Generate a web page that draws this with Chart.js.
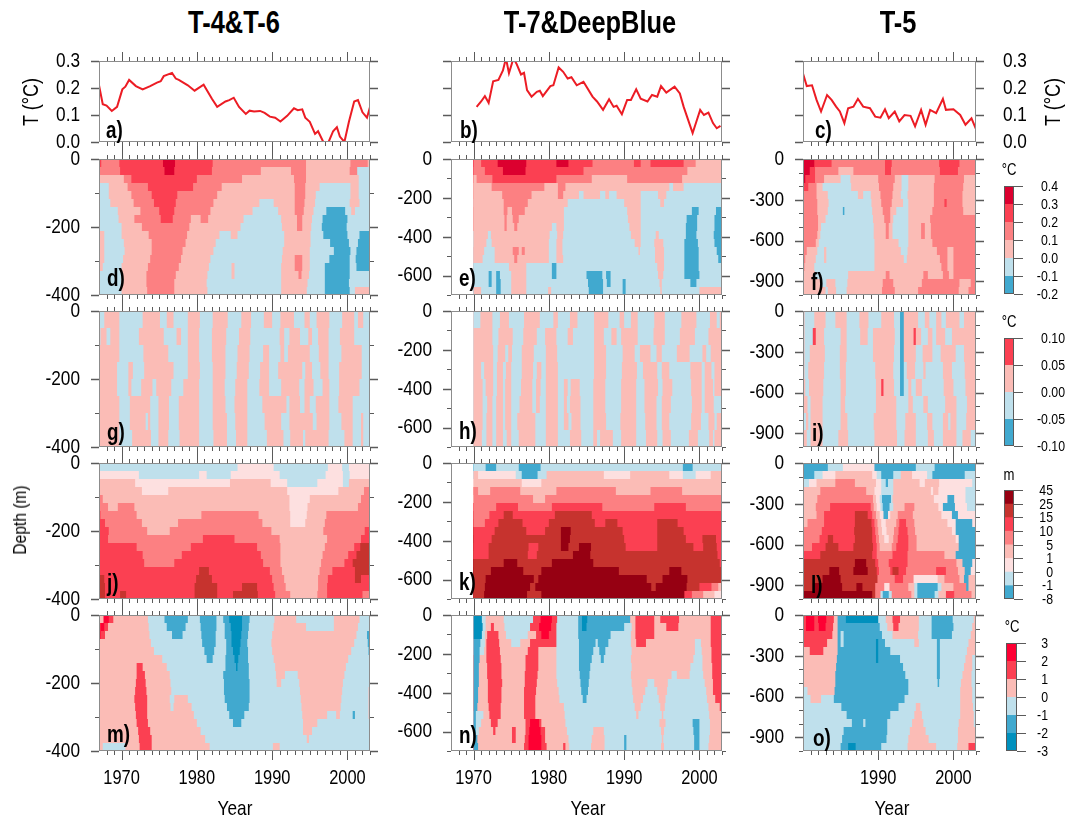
<!DOCTYPE html>
<html>
<head>
<meta charset="utf-8">
<title>Ocean temperature and depth sections</title>
<script src="https://cdn.jsdelivr.net/npm/chart.js@4/dist/chart.umd.min.js"></script>
<style>
body { margin:0; background:#fff; width:1071px; height:824px; position:relative; overflow:hidden; }
canvas { position:absolute; }
.txt { position:absolute; font-family:"Liberation Sans",sans-serif; color:#000; white-space:nowrap; transform:translate(-50%,-50%) scaleX(.82); }
.rot { transform:translate(-50%,-50%) rotate(-90deg) scaleX(.82); }
.tag { font-weight:bold; font-size:23px; transform-origin:left center; transform:translate(0,-50%) scaleX(.82); }
.head { font-weight:bold; font-size:31px; }
</style>
</head>
<body>
<script>
const FONT = 'Liberation Sans'
const NARROW = .82

// Top row: mean temperature (year, deg C)
const yearsA = [1967,1967.5,1968,1968.7,1969.4,1970.1,1970.5,1971,1971.9,1972.8,1973.8,1974.7,1975.2,1975.6,1976.7,1977.2,1977.6,1978.8,1979.7,1980.9,1982,1982.7,1983.8,1984.3,1984.9,1985.6,1986.5,1987,1987.6,1988.4,1989,1989.7,1990.4,1991.1,1992,1992.9,1993.4,1994,1994.4,1995,1995.7,1996.1,1996.8,1997.5,1998.1,1998.6,1999,1999.6,2000.2,2000.9,2001.4,2002,2002.6,2003]
const tempA = [.21,.14,.135,.115,.13,.195,.205,.23,.207,.195,.207,.22,.225,.244,.256,.235,.23,.21,.19,.212,.16,.13,.15,.155,.164,.13,.104,.116,.113,.115,.108,.094,.09,.076,.097,.125,.118,.121,.09,.075,.03,.04,0,0,.04,.055,.02,0,.075,.15,.155,.11,.09,.13]
const yearsB = [1970.4,1971,1971.5,1972,1972.6,1973.3,1973.9,1974.3,1974.7,1975.3,1975.7,1976.3,1976.7,1977.1,1977.7,1978.4,1978.8,1979.2,1980.2,1980.6,1981.3,1981.9,1982.5,1983,1983.7,1984.6,1985.8,1986.4,1987.2,1988,1988.6,1989,1989.7,1990.4,1990.9,1991.6,1992.2,1993.1,1993.7,1994.4,1994.9,1995.6,1996.7,1997.4,1997.9,1998.5,1999.1,1999.6,2000.1,2000.6,2001.2,2001.8,2002.3,2002.8]
const tempB = [.13,.15,.17,.145,.225,.23,.265,.31,.255,.31,.29,.25,.256,.192,.168,.186,.19,.17,.207,.21,.276,.26,.235,.24,.21,.223,.168,.15,.119,.158,.13,.134,.103,.156,.156,.195,.16,.15,.174,.168,.207,.183,.205,.18,.131,.082,.033,.076,.119,.1,.109,.07,.051,.06]
const yearsC = [1980,1980.5,1981.2,1981.8,1982.4,1983.2,1983.8,1984.4,1984.9,1985.5,1986,1986.7,1987.3,1988,1988.9,1989.6,1990.3,1990.9,1991.4,1992.2,1992.8,1993.5,1994.3,1994.9,1995.7,1996.3,1996.9,1997.7,1998.6,1999,2000,2000.9,2001.6,2002.4,2003]
const tempC = [.254,.207,.21,.156,.113,.174,.156,.131,.113,.07,.125,.131,.16,.131,.125,.094,.09,.121,.088,.113,.076,.1,.097,.058,.119,.064,.119,.107,.16,.119,.121,.1,.064,.088,.048]

// Colour bar levels
const levelsDEF = ['-0.2','-0.1','0.0','0.1','0.2','0.3','0.4']
const levelsGHI = ['-0.10','-0.05','0.00','0.05','0.10']
const levelsJKL = ['-8','-1','0','1','5','10','15','25','45']
const levelsMNO = ['-3','-2','-1','0','1','2','3']

// Band colours, lowest level first
const LB='#bfe0ec', MB='#41a9cf', DB='#0090bd', PP='#fde0e0', PK='#fbbcb6', SA='#fc8082', RE='#fb4052', CR='#dc002f', BR='#fe0033', DR='#c6332e', MA='#960012'
const paletteDEF = [MB,LB,PK,SA,RE,CR]
const paletteGHI = [MB,LB,PK,RE]
const paletteJKL = [MB,LB,PP,PK,SA,RE,DR,MA]
const paletteMNO = [DB,MB,LB,PK,RE,BR]

// Sections. One row per depth level, shallowest first.
// A row reads band, end year (minus 1900), band, end year ... band
const rowsD = [
[4,67.3,3,69.7,4,75.5,5,77.1,4,82.1,3,94.5,2,100.4,3,102.7,2],
[3,69.8,4,75.7,5,77,4,82,3,88.5,2,92.5,3,94.5,2,100.3,3,101.3,1],
[2,70.3,3,71.3,4,80,3,86,2,92.9,3,94.5,2,101.5,1],
[1,68.3,2,70.8,3,73.5,4,79.5,3,83.3,2,93,3,94.4,2,96.3,1,100.4,2,101.5,1],
[1,68.3,2,71.3,3,74,4,77.4,3,82.7,2,93,3,94.4,2,95.8,1,100.4,2,101.5,1],
[1,68.5,2,71.6,3,74.3,4,77.2,3,82.2,2,88.3,1,90.2,2,93,3,94.3,2,95.7,1,100.3,2,101.6,1],
[1,69.5,2,72.5,3,75,4,77,3,81.8,2,87.4,1,90.8,2,93,3,94.2,2,95.5,1,97.2,0,99.7,1,100.5,2,101,1],
[1,69.6,2,71.7,3,75.2,4,76.8,3,79.2,2,80.5,3,81.5,2,86.2,1,91.2,2,93.3,3,94,2,95.3,1,96.7,0,100,1],
[1,70,2,72.7,3,79,2,85.8,1,91.3,2,93.3,3,94,2,95.2,1,96.6,0,99.9,1],
[2,67.7,1,70,2,73.6,3,78.7,2,83,1,84.5,2,85.4,1,91.6,2,95.1,1,96.8,0,100,1,101.6,0],
[2,67.7,1,70.3,2,74,3,78.5,2,82.5,1,91.6,2,95.1,1,97.7,0,100.2,1,101.4,0],
[2,67.7,1,70.4,2,74,3,78.1,2,82.2,1,91.4,2,95,1,98.2,0,100.4,1,101.2,0],
[2,67.7,1,70.2,2,73.8,3,77.9,2,81.8,1,91.3,2,93,3,94,2,95,1,97.6,0,100.3,1,101.1,0],
[2,67.5,1,70,2,73.5,3,77.6,2,81.6,1,84.6,2,85,1,91.2,2,93,3,94,2,95,1,97,0,100.3,1,101.2,0],
[1,70,2,73.3,3,77.2,2,81.4,1,84.6,2,85,1,91.2,2,93.5,3,93.9,2,94.9,1,97,0,100.3,1],
[1,70,2,73.3,3,77,2,81.3,1,91.2,2,94.7,1,97,0,100.2,1],
[1,70,2,73.4,3,77,2,81.4,1,91.2,2,94.6,1,97,0,100.3,1,101,2]
]
const rowsE = [
[3,71,4,73.2,5,77,4,81,5,82.6,4,85.8,3,91.3,4,92.2,3,93.5,4,97.9,3,99.5,2],
[3,71.5,4,73.9,5,76.9,4,84.6,3,98.4,2],
[2,70.4,3,72.5,4,81,3,85.7,2,90.4,3,97.7,2],
[2,72.4,3,79.4,2,81.2,3,82.2,2,96,1,96.5,2,97.9,1],
[2,73.8,3,77.7,2,81.2,3,81.9,2,84,1,84.6,2,86.8,1,87.5,2,88,1,89,2,92.2,1,94.5,2,95.6,1],
[2,74,3,77.2,2,82.5,1,90,2,92.2,1,94.8,2,95.3,1],
[2,74,3,74.5,2,75.1,3,76.8,2,82,1,90.4,2,92.2,1,99,0,99.9,1,102.2,0],
[2,74.1,3,74.4,2,75.2,3,76,2,82,1,90.5,2,92.2,1,98.3,0,99.7,1,102,0],
[2,74.1,3,74.4,2,75.4,3,75.8,2,80.4,1,81,2,82,1,90.7,2,92.2,1,98.2,0,99.7,1,102,0],
[2,71.9,1,72.3,2,80.1,1,81.1,2,81.9,1,90.9,2,92.2,1,94.2,2,94.6,1,98.2,0,99.6,1,101.9,0],
[2,71.7,1,72.4,2,80,1,81,2,81.8,1,91.4,2,92.2,1,94,2,95.2,1,98,0,99.8,1,102,0],
[2,71.4,1,72.8,2,75.2,3,76,2,76.4,3,76.8,2,80,1,81,2,81.8,1,91.9,2,92.1,1,94.1,2,95.3,1,98,0,99.9,1,102.3,0],
[2,71.2,1,72.8,2,75.4,3,75.8,2,80,1,81,2,81.9,1,94.1,2,95.3,1,98,0,99.9,1,102.5,0],
[1,74.7,2,77,1,80.4,0,81,1,94.4,2,95.3,1,98,0,99.9,1],
[1,72,0,72.4,1,73,0,73.5,1,75,2,77,1,80.4,0,81,1,85,0,87.1,1,87.6,0,88.2,1,94.5,2,95.2,1,98,0,100,1],
[1,72,0,72.4,1,73,0,73.6,1,75,2,77,1,85.2,0,87.2,1,87.7,0,88.2,1,89.8,0,90.2,1,94.7,2,95,1,98.8,0,99.6,1],
[2,71,1,73,0,73.6,1,75,2,77,1,79.9,2,80.3,1,85.3,0,87.2,1,89.8,0,90.2,1,94.8,2,95,1,100,2]
]
const rowsF = [
[5,81.5,4,83.8,3,90.9,4,91.8,3,98.1,4,100.8,3],
[5,80.9,4,81.6,3,84.7,2,86.7,3,90.9,4,91.7,3,98.2,4,100.6,3],
[5,80.3,4,81.6,3,82.8,2,85,1,86.3,2,90,3,92.2,2,93.1,1,94,2,97.5,3,101.4,2],
[4,80.7,3,81.8,2,82.6,1,86.4,2,90.1,3,92,2,93.1,1,94,2,97.4,3,101.3,2],
[3,81.8,2,83.3,1,87.3,2,88,1,89,2,90.3,3,91.9,2,93,1,93.9,2,97.4,3,101.2,2],
[3,81.9,2,83.4,1,89.1,2,90.4,3,91.8,2,93.3,1,94,2,97.4,3,98.8,4,99.1,3,101.2,2],
[3,81.9,2,83.3,1,85.3,0,85.5,1,89.2,2,90.6,3,91.6,2,92.4,1,94,2,97.2,3,101.3,2],
[3,82,2,83,1,89.3,2,90.8,3,91.6,2,92,1,94,2,96.9,3],
[3,82,2,82.4,1,89.4,2,91,3,91.4,2,91.9,1,94,2,95.7,3,96.2,2,97,3],
[3,81.9,2,82.3,1,89.4,2,91,3,91.4,2,91.9,1,94,2,95.7,3,96.2,2,97,3],
[3,81.7,2,82.1,1,89.5,2,92.7,1,94,2,97.2,3],
[3,80.5,2,81.9,1,82.8,2,83.1,1,89.5,2,93,1,93.9,2,97.8,3,99.2,2,100,3],
[3,80.3,2,81.7,1,82.8,2,83.1,1,89.5,2,93.4,1,93.8,2,98.2,3,99.2,2,100,3],
[3,80.2,2,81.5,1,89.5,2,98.4,3,99.2,2,100,3],
[2,81.6,1,86,2,91,3,91.5,2,96,3,96.6,2,98.6,3,99.4,2,100,3],
[2,82.3,1,83.1,2,84.3,1,85.9,2,90.6,3,92,2,95.8,3,100.8,2,102.3,3],
[2,83,1,83.3,2,84.4,1,85.8,2,90.5,3,92.2,2,95.3,3,100.7,2,102,3]
]
// G and H alternate between two bands, so a row is first band, then the end years
const rowsG = [
[1,67.7,69.7,72.8,75.1,76,76.9,78.8,80.4,82.1,84.1,85.9,87.2,88.9,90,91.1,92.9,94.3,95,95.9,97.6,99.3,100.9,101.4,102.1],
[1,67.2,68,68.5,69.7,72.3,75.6,77.3,77.9,78.8,80.3,82,83.9,85.6,87.1,91,91.6,92.3,93.7,94.8,95.3,96.1,97.5,99,100.9],
[2,69.7,72.9,76.2,78.8,80.3,82,83.8,85.4,87,88.8,89.6,91.1,91.6,92.1,95,96.2,97.5,99.2,101.9],
[2,69.4,70.9,71.5,73,76.9,78.8,80.4,82.1,83.8,85.3,86.9,88.4,89.6,90.8,94,94.4,95.3,96.4,97.5,98.9,101.9],
[2,69.4,70.9,71.3,72.6,74.1,74.6,76.6,78.2,80.3,82.1,83.7,85.1,86.7,88.3,89.6,91.2,93.6,94.3,95.5,96.7,97.6,98.9,101.6],
[2,69.7,71.1,73.8,74.9,76.3,77.6,80.3,82.1,83.8,85,86.7,88.7,91.9,92.3,93.7,94.3,95,95.8,97.6,98.8,100.7],
[2,69.7,71.1,73.2,73.5,73.8,74.9,76.3,77.6,80.3,82.1,84,85.1,86.7,89,91.2,92.3,95.4,95.9,97.6,99.2,100.7,101.8,102.1],
[2,69.7,71.4,73.9,74.9,76.2,77.7,80.3,82.2,84,85.2,86.7,89.3,91.5,92.4,94.1,94.4,97.5,99.6,100.7,101.8,102.1]
]
const rowsH = [
[1,70.9,72.5,73.5,74.7,76.7,78.8,80.6,81.2,82.8,83.8,86,87.9,89.4,90,90.9,91.8,94,95.4,97.6,99.6,101.4,102.3,102.7],
[2,72.5,73.3,75.2,76.6,78.4,79.5,81,82.5,83.2,86,87.3,88.3,89,89.6,91.8,93.9,95.4,97.4,99.4,101.2],
[2,72.6,73.2,74.2,74.6,75.1,76.4,78,79.6,81.1,86,87.6,89.8,91.4,92.1,93.5,94.3,95,97,98.7,100.4,100.9,101.5],
[2,71,71.4,72.6,73.1,73.9,74.3,75,76.4,77.9,78.4,79,79.6,81.2,86,87.6,89.7,91.7,92.5,94.4,95,96,98.8,100.3,100.7,101.6,102],
[2,71.2,71.6,72.6,73.1,73.9,74.2,75,76.3,77.8,78.3,78.9,79.6,81.2,82,82.5,82.9,84.1,85.9,87.5,89.6,91.6,92.7,94.5,95.1,96.4,98.9,100.3,100.7,101.8,102],
[2,71.2,71.8,72.5,73,73.9,74.2,75,76.1,77.8,78.3,78.8,79.6,81.2,82,82.4,82.8,84.2,85.9,87.5,89.6,91.6,92.7,94.3,95,96.2,99,100.3,100.7,101.9],
[2,71.2,71.7,72.5,73,73.9,74.2,75,75.8,78.2,79.6,81.2,82,82.6,83,84.2,85.9,87.6,89.5,91.6,92.8,94.3,95,96,98.9,100.2,101.2,102,102.3],
[2,71.1,71.7,72.5,73,73.9,74.4,75,76,78.2,79.6,81.2,82.8,84.3,85.9,86.4,86.8,88.5,89.6,91.6,92.9,94.4,95.1,96.2,98.6,99.8,101.3,101.8,102]
]
const rowsI = [
[2,80.2,1,81.5,2,83,1,84.3,2,85.8,1,87.5,2,88.7,1,90.4,2,92.1,1,92.9,0,93.4,2,95.3,1,96.2,2,96.8,1,97.7,2,98.4,1,99,2,100.8,1,101.4,2],
[2,80.2,1,81.3,3,81.7,2,82.8,1,85,2,85.8,1,87.6,2,88.6,1,89.3,2,92.2,1,92.9,0,93.4,2,94.7,3,95,2,95.7,1,96.6,2,97.2,1,97.7,2,98.9,1,99.8,2],
[2,80.2,1,80.9,2,82.9,1,84.9,2,85.8,1,89.3,2,92.1,1,92.9,0,93.4,2,95,1,95.9,2,97.2,1,98.3,2,100.3,1,101.4,2],
[2,80.2,1,80.7,2,82.8,1,84.9,2,85.7,1,89.6,2,92,1,92.9,0,93.4,1,93.8,2,94.9,1,96,2,96.3,1,98.6,2,99.8,1,101.5,2],
[2,80.3,1,80.8,2,82.7,1,85,2,85.7,1,89.7,2,90.4,3,90.7,2,92.1,1,92.9,0,93.4,1,94,2,94.4,1,95,2,95.8,1,98.7,2,100,1,101.6,2],
[2,80.6,1,81,2,82.6,1,85,2,85.6,1,89.7,2,92.4,1,94,2,94.6,1,96,2,96.6,1,98.9,2,100.4,1,101.8,2],
[1,80.4,2,80.7,1,81,2,82.6,1,85,2,85.9,1,89.4,2,92.4,1,93.6,2,95,1,96.5,2,97.2,1,98.6,2,99.3,1,99.6,2,100.4,1,101.7,2],
[2,80.5,1,81,2,82.6,1,84.7,2,86,1,89.5,2,92.5,1,93.5,2,95,1,96.6,2,97.4,1,98.6,2,100.4,1,101.2,2,102.3,1]
]
const rowsJ = [
[1,85.4,2,90.2,1,97.4,2,99.3,1,100.2,2],
[2,72.3,1,80.3,2,81.3,1,84.5,2,91,1,97.1,2,99.4,1,100.3,2],
[3,71.8,2,84.4,3,89.8,2,92,1,96,2,99.4,1,100.2,3],
[3,72.7,2,76.2,3,92,2,98.8,3,102.2,4],
[4,67.5,3,92.3,2,95,3,101.8,4],
[4,68.2,3,69.5,4,71.7,3,92.3,2,94.7,3,101.4,4],
[5,67.2,4,72,3,80.6,4,88.2,3,92.4,2,94.6,3,97.2,4],
[5,67.8,4,72.7,3,77.5,4,88.7,3,92.4,2,94.4,3,97,4],
[5,68.3,4,73.4,3,76.4,4,89.9,3,96.8,4,102.3,5],
[5,68.2,4,80.8,5,85,4,91,3,97.3,4,101.8,5],
[5,72,4,79.2,5,88,4,91.1,3,97,4,100.9,5,101.7,6],
[5,72.8,4,78,5,88.5,4,91.1,3,96.7,4,100.1,5,101.2,6],
[5,73,4,77,5,88.8,4,91.1,3,96.5,4,99.6,5,100.7,6],
[5,80.3,6,81.6,5,89.7,4,91.3,3,96.3,4,98,5,101,6],
[6,67.7,5,79.9,6,82,5,90,4,91.6,3,96.1,4,97.4,5,101,6,101.8,5],
[6,67.8,5,79.7,6,82.7,5,86,6,88,5,90.2,4,91.8,3,96.1,4,97.3,5],
[6,67.8,5,69.8,6,70.6,5,79.7,6,82.7,5,84.8,6,88.1,5,90.4,4,92.4,3,96,4,97.3,5,102,4]
]
const rowsK = [
[1,71.6,0,73,1,76,0,78.9,1,97.8,0,99.1,1],
[3,70.6,2,75.6,1,76.4,0,78.5,1,79.7,3,87.3,2,90.8,3,96,2,97.8,1,99.5,2,101.5,3],
[3,76.4,2,79,3],
[4,70.6,3,72.2,4,76.2,3,81,4,88.9,3,93.5,4,97.7,3],
[4,77.9,3,79.5,4],
[4,73,5,75.9,4,80.4,5,87.1,4,94,5,98.2,4],
[4,72.1,5,74,6,75.2,5,80.8,6,85.7,5],
[4,71.5,5,73.3,6,76.5,5,80,6,86.1,5,87.5,6,89.1,5,94.4,6,97.1,5],
[5,72.8,6,77,5,79.5,6,81.6,7,82.9,6,89.8,5,94.4,6,97.9,5],
[5,72.4,6,81.6,7,82.8,6,90,5,94.4,6,98.2,5,100.4,6,102.2,5],
[5,72,6,77.3,5,78.6,6,81.6,7,82.6,6,84,7,85.6,6,90.2,5,94.4,6,99.2,5,100.5,6,102.3,5],
[5,72,6,77.2,5,78.4,6,83.2,7,85.5,6,102.4,5],
[6,74,7,75.8,6,80.4,7,85.9,6,102.7,5],
[6,72.3,7,76.6,6,79,7,89.3,6,96,7,97.6,6],
[6,71.6,7,78,6,78.6,7,93,6,95.1,7,98.4,6],
[6,71.5,7,77.5,6,78.2,7,93.6,6,94.2,7,98.3,6,100,5,101.6,4,102.5,3],
[6,71.4,7,77.1,6,79,7,98,5,99,4,100.5,3,102,2]
]
const rowsL = [
[0,83.3,1,85.3,2,89.5,0,95,1,97.5,0],
[0,81.5,1,82.6,2,84.3,3,89.2,2,89.8,1,90.4,0,92,1,93,3,94.5,2,96.5,1,97.2,0,101.5,1],
[1,80.8,2,81.8,3,84.3,4,86.9,3,89.7,2,90.4,1,91,0,91.3,1,92,3,95.5,2,96.2,3,98.1,2,102.5,1],
[3,82.3,4,88.4,3,89.5,2,90.4,1,92,3,97,2,97.3,3,98,2,101.6,1],
[3,81.9,4,89.3,3,89.7,2,90.2,1,90.5,0,91.7,1,91.9,3,97.4,2,99.2,0,100.1,2,101.6,1],
[3,81.7,4,83.6,5,89,4,89.4,3,89.8,2,90.3,1,90.6,0,91.5,1,92,3,93.5,4,94.8,3,98,2,98.6,0,100.2,2,101.8,1],
[3,81.8,4,82.8,5,86.9,6,88.6,5,89.2,4,89.7,3,90.2,2,90.7,0,91.3,2,91.6,3,92.6,4,94.6,3,98.4,2,99.8,0,100.6,2],
[3,80.6,4,82.8,5,86.9,6,89.1,5,89.5,4,89.9,3,90.4,2,91,3,92.4,4,92.8,5,93.7,4,94.8,3,99.2,2,100.3,0,102.5,2],
[4,82.5,5,86.8,6,89.2,5,89.6,4,90,3,90.5,2,91.1,3,92.1,4,92.7,5,93.9,4,94.9,3,99.8,2,100.3,0],
[4,82.2,5,83.3,6,84,5,86.9,6,89.2,5,89.7,4,90.1,3,90.8,2,91.4,3,92,4,92.6,5,94,4,95.1,3,100.3,2,100.7,0],
[4,81.2,5,83,6,84.7,5,86.7,6,89.3,5,89.8,4,90.2,3,91.8,4,92.4,5,94,4,95.1,3,100.7,0],
[5,82.3,6,89.2,5,89.8,4,91.9,5,93.9,4,98.8,3,100.3,0],
[6,86.9,7,88.4,6,89.6,5,90,4,91.4,5,93.9,4,100.4,3,101.2,0,102.5,2],
[6,83.5,7,84.8,6,86.7,7,88.6,6,89.8,5,90.1,4,91.6,5,91.9,6,92.7,5,93.7,4,97.7,5,99,4,100.6,3,101.5,0,102.3,2],
[6,82.6,7,85,6,89.9,4,92.2,5,93.3,4,94.7,2,97.9,3,98.8,4,100.8,3,101.4,0,102,3],
[6,81.3,7,85.2,6,87.1,7,87.9,6,89.6,4,90.8,2,91.5,4,94,3,94.8,1,95.2,0,97.9,1,98.4,3,100,4,101.7,0,102,3],
[7,89.2,6,89.6,4,90.3,1,90.6,0,91.4,1,91.8,4,94.4,3,94.8,1,95.2,0,97.5,1,98,3,99,5,100.1,4,102.4,3]
]
const rowsM = [
[3,67.6,5,68.3,4,68.9,3,73.5,2,75.7,1,78.8,2,80.4,1,82.6,2,83.5,1,84.3,0,86,1,87,2,90.3,3,93.2,2,98.2,3,101.6,2],
[4,67.2,5,67.7,4,68.2,3,73.6,2,76,1,78.5,2,80.5,1,82.6,2,83.7,1,84.5,0,86,1,86.9,2,90.2,3,94.5,2,98.2,3,101.4,2],
[5,67.2,4,67.8,3,73.7,2,76.7,1,78.1,2,80.6,1,82.5,2,83.7,1,84.6,0,85.9,1,86.8,2,90,3,101.2,2,102.6,1],
[3,73.9,2,80.7,1,82.5,2,83.9,1,84.6,0,85.8,1,86.7,2,89.9,3,100.9,2,102.7,1],
[3,74.3,2,81,1,82.3,2,83.9,1,84.8,0,85.7,1,86.8,2,90,3,100.5,2,102.8,1],
[3,75.4,2,81.3,1,82.1,2,83.8,1,85,0,85.5,1,86.8,2,90.2,3,100.1,2],
[3,72,4,72.8,3,76,2,83.8,1,85.2,0,85.4,1,86.9,2,90.4,3,99.8,2],
[3,72,4,73.1,3,76.4,2,83.5,1,86.9,2,90.5,3,91.7,2,93.4,3,99.6,2],
[3,71.9,4,73.2,3,76.5,2,83.6,1,87,2,90.6,3,91.2,2,93.6,3,99.4,2],
[3,71.8,4,73.3,3,76.6,2,83.6,1,87,2,93.7,3,99.3,2,102.8,3],
[3,71.7,4,73.4,3,76.4,2,77,3,78.8,2,83.7,1,87,2,93.8,3,99.2,2,102.8,3],
[3,71.8,4,73.4,3,76.5,2,76.9,3,79.3,2,84,1,86.9,2,93.9,3,99.1,2,102.8,3],
[3,71.9,4,73.4,3,79.6,2,84.3,1,86.3,2,94,3,97.3,2,98.5,3,99,2,100.7,1,101,2,102.8,3],
[3,72,4,73.5,3,80,2,84.8,1,85.9,2,94.1,3,96,2],
[3,72.2,4,73.8,3,80.5,2,94.1,3,95.3,2],
[3,72.3,4,74,3,81.1,2,94.6,3,94.9,2],
[3,67.5,2,70.5,3,72.4,4,74,3,81.7,2,90.1,3,91,2]
]
const rowsN = [
[0,71.1,2,71.6,3,74,2,77.9,4,78.9,5,80.4,4,81.1,2,83.9,1,84.4,0,85.1,1,90.8,3,91.5,4,94,3,94.8,4,97.3,3,101.5,4],
[0,71.2,2,71.6,3,72.3,4,72.7,3,74.1,2,77.5,4,78.7,5,80.3,4,81,2,83.9,1,84.4,0,85,1,90,2,91,3,91.5,4,94,3,95.6,4,97.2,3,101.5,4],
[0,71.1,2,71.5,3,71.8,4,73.3,3,74.3,2,77.2,3,78.3,4,79,5,80,4,81,2,83.9,1,88.2,2,90.9,3,91.5,4,94,3,101.5,4],
[1,70.9,2,71.5,3,71.7,4,73.4,3,75,2,76.2,3,77.5,4,81,2,84,1,86.2,2,86.5,1,87.9,2,90.9,3,91.6,4,92.9,3,99.4,2,100.2,3,101.5,4],
[1,70.8,2,71.4,3,71.7,4,73.5,3,77.2,4,78.6,3,81,2,84,1,85.9,2,86.7,1,87.5,2,91,3,99.4,2,100.3,3,101.6,4],
[1,70.8,3,71.7,4,73.6,3,76.9,4,78.6,3,81,2,84,1,85.7,2,86.9,1,87.3,2,90.9,3,99.2,2,100.4,3,101.6,4],
[1,70.7,3,71.8,4,73.7,3,76.9,4,78.6,3,81,2,84,1,85.5,2,91,3,98.8,2,100.4,3,101.7,4],
[1,70.7,3,71.8,4,73.7,3,76.8,4,78.5,3,81,2,84.1,1,85.4,2,90.9,3,96.3,2,97,3,98.7,2,100.5,3,101.7,4],
[1,70.7,3,71.9,4,73.8,3,76.8,4,78.4,3,81.1,2,84.2,1,85.3,2,91,3,93.1,2,94,3,95.8,2,100.7,3,101.8,4],
[1,70.6,3,71.9,4,73.7,3,76.7,4,78.3,3,81.3,2,84.3,1,85.2,2,91.1,3,92.8,2,94.4,3,95.7,2,100.9,3,101.8,4],
[1,70.6,3,71.9,4,73.7,3,76.7,4,78.2,3,81.4,2,84.5,1,85,2,91.2,3,92.5,2,94.6,3,95.5,2,101,3,102.1,4],
[1,70.5,3,72,4,73.6,3,76.7,4,78.2,3,82,2,91.4,3,92.2,2,94.8,3,95.4,2,101.2,3,102.7,4],
[1,70.3,2,71.3,3,72.1,4,73.6,3,76.7,4,78.2,3,82.1,2,91.6,3,91.9,2,95,3,95.2,2,101.3,3],
[1,70.3,2,71,3,72.3,4,73.2,3,76.9,4,77.5,5,78.7,4,79,3,82.2,2,94.7,3,95.5,2,99.1,1,100,2,101.4,3],
[1,70.3,2,70.7,3,72.6,4,72.9,3,75.1,4,75.6,3,76.9,4,77.4,5,78.9,4,79.5,3,82.4,2,85.9,3,87.3,2,94.9,3,95.3,2,99.2,1,100,2,101.4,3],
[1,70.5,3,75.1,4,75.6,3,76.8,4,77.3,5,79,4,79.5,3,82.6,2,85.7,3,87.4,2,90,1,90.3,2,95,3,95.2,2,99.3,1,100,2,101.3,3],
[1,70.6,3,76.7,4,77.3,5,79,4,79.7,3,81.9,4,82.2,3,82.7,2,85.6,3,87.4,2,90,1,90.3,2,94.9,3,95.3,2,99.3,1,100,2,101.2,3]
]
const rowsO = [
[4,80.4,5,81.5,4,82,5,83.1,4,84.1,3,84.6,1,85.7,0,90,2,91,3,91.9,4,92.9,3,95.4,2,97.1,1,99.9,2,102.7,3],
[4,80.4,5,81.5,4,82.1,5,83,4,84,3,84.6,1,90.2,2,91.2,3,92,4,92.7,3,95.4,2,97.1,1,100,2,102.5,3],
[4,83.9,3,84.6,1,85,2,85.4,1,90.5,2,91.9,3,95.3,2,97.1,1,99.8,2,102.3,3],
[4,83.2,3,84.6,1,85,2,85.4,1,89.7,0,90,1,90.9,2,94.8,3,95.4,2,97.8,1,98.2,2,102,3],
[3,80.9,4,82.7,3,84.6,1,89.7,0,90,1,91.6,2,97.8,1,98.2,2,101.8,3],
[3,84.5,1,89.7,0,90,1,92.9,2,97.8,1,98.2,2,101.6,3,102.5,2],
[3,84.4,1,93.3,2,97.8,1,98.2,2,101.4,3,102.5,2],
[3,84.3,1,93.6,2,97.8,1,98.2,2,101.2,3,102.4,2],
[3,84.3,1,94,2,97.9,1,98.1,2,101,3,102.4,2],
[2,80.6,3,84.2,1,94,2,100.9,3,102.5,2],
[2,81,3,82.4,2,84.1,1,93.5,2,100.9,3,102.5,2],
[2,85.1,1,92.7,2,95,3,95.6,2,100.9,3,102.6,2],
[2,85.8,1,91.6,2,94.8,3,95.8,2,100.9,3,102.7,2],
[2,86.5,1,88,2,88.3,1,91.2,2,94.5,3,96,2,100.7,3,102.7,2],
[2,85.4,1,91.2,2,94.2,3,96.3,2,100.6,3],
[2,85.2,1,91.1,2,94,3,96.7,2,100.6,3],
[2,85,1,86,0,87,1,90.4,2,93.9,3,97.7,2,100.5,3,102,4]
]

const decades = [1970,1980,1990,2000]
const padL = 70, padR = 60, padT = 20, padB = 50

// canvas has no condensed face, so squeeze the label as it is drawn
function narrowText(ctx, str, x, y, align, size) {
	ctx.save()
	ctx.translate(x, y)
	ctx.scale(NARROW, 1)
	ctx.font = size + 'px "' + FONT + '"'
	ctx.textAlign = align
	ctx.textBaseline = 'middle'
	ctx.fillStyle = '#000'
	ctx.fillText(str, 0, 0)
	ctx.restore()
}

// draws the frame, the outward ticks and the labels NCL style, from the chart's own scales
const frameTicks = {
	id: 'frameTicks',
	afterDraw(chart, args, o) {
		const ctx = chart.ctx, a = chart.chartArea
		ctx.save()
		ctx.strokeStyle = '#8c8c8c'
		ctx.lineWidth = 1
		ctx.strokeRect(a.left + .5, a.top + .5, a.right - a.left - 1, a.bottom - a.top - 1)
		const line = (x1, y1, x2, y2) => { ctx.beginPath(); ctx.moveTo(x1, y1); ctx.lineTo(x2, y2); ctx.stroke() }
		ctx.strokeStyle = '#5a5a5a'
		const xs = chart.scales.x, ys = chart.scales[o.yAxis]
		for (let yr = Math.ceil(xs.min); yr <= xs.max; yr++) {
			const x = Math.round(xs.getPixelForValue(yr)) + .5, len = yr % 10 === 0 ? 9 : 4
			if (yr === xs.min) continue
			ctx.lineWidth = 1
			line(x, a.top, x, a.top - len)
			line(x, a.bottom, x, a.bottom + len)
		}
		for (let v = ys.min; v <= ys.max + 1e-6; v += o.minor) {
			const y = Math.round(ys.getPixelForValue(v)) + .5
			const major = Math.abs(v / o.major - Math.round(v / o.major)) < 1e-6
			const len = major ? 8 : 4
			ctx.lineWidth = major ? 1.5 : 1
			line(a.left, y, a.left - len, y)
			line(a.right, y, a.right + len, y)
		}
		if (o.yLabels) ys.ticks.forEach(t => {
			const y = ys.getPixelForValue(t.value)
			if (o.yLabels === 'right') narrowText(ctx, t.label, a.right + 27, y, 'left', 21)
			else narrowText(ctx, t.label, a.left - 19, y, 'right', 21)
		})
		if (o.xLabels) xs.ticks.forEach(t => narrowText(ctx, t.label, xs.getPixelForValue(t.value), a.bottom + 27, 'center', 20))
		ctx.restore()
	}
}

function makeCanvas(left, top, w, h) {
	const c = document.createElement('canvas')
	c.width = w; c.height = h
	c.style.left = left + 'px'; c.style.top = top + 'px'
	document.body.appendChild(c)
	return c
}

function yearAxis(min, max) {
	return {
		type: 'linear', min, max, position: 'bottom',
		grid: { display: false, drawTicks: false }, border: { display: false },
		afterBuildTicks: s => { s.ticks = decades.filter(d => d > min).map(value => ({ value })) },
		afterFit: s => { s.height = padB },
		ticks: { display: false, autoSkip: false, callback: v => String(v) }
	}
}

function valueAxis(min, max, major, right, fmt) {
	const vals = []
	for (let i = 0; max - i * major >= min - 1e-6; i++) vals.push(+(max - i * major).toFixed(4))
	return {
		type: 'linear', axis: 'y', min, max, offset: false, position: right ? 'right' : 'left',
		grid: { display: false, drawTicks: false }, border: { display: false },
		afterBuildTicks: s => { s.ticks = vals.map(value => ({ value })) },
		afterFit: s => { s.width = right ? padR : padL },
		ticks: { display: false, autoSkip: false, callback: fmt }
	}
}

// turn "band, end, band, end, band" rows into cumulative bars so no seams show
function section(left, top, width, rows, palette, xMin, start, depth, major, showYears) {
	const nSeg = Math.max(...rows.map(r => (r.length + 1) / 2))
	const datasets = []
	for (let i = 0; i < nSeg; i++) {
		datasets.push({
			data: rows.map(r => {
				if (i * 2 >= r.length) return null
				const end = i * 2 + 1 < r.length ? r[i * 2 + 1] + 1900 : 2003
				return [start, end]
			}),
			backgroundColor: rows.map(r => palette[r[i * 2]] || 'rgba(0,0,0,0)'),
			barPercentage: 1, categoryPercentage: 1, grouped: false, borderWidth: 0, inflateAmount: 0,
			xAxisID: 'x', yAxisID: 'rows'
		})
	}
	const c = makeCanvas(left - padL, top - padT, width + padL + padR, 136 + padT + padB)
	new Chart(c, {
		type: 'bar',
		data: { labels: rows.map((r, i) => i), datasets },
		options: {
			indexAxis: 'y', responsive: false, animation: false,
			layout: { padding: { top: padT, right: padR } },
			plugins: { legend: { display: false }, tooltip: { enabled: false }, frameTicks: { yAxis: 'depth', major, minor: 100, yLabels: 'left', xLabels: showYears } },
			scales: {
				x: yearAxis(xMin, 2003),
				rows: { type: 'category', axis: 'y', display: false, offset: true },
				depth: valueAxis(-depth, 0, major, false, v => String(v))
			}
		},
		plugins: [frameTicks]
	})
}

function tempLine(left, width, years, temps, xMin, yLabels) {
	const right = yLabels === 'right'
	const c = makeCanvas(left - padL, 61 - padT, width + padL + padR, 81 + padT + padB)
	new Chart(c, {
		type: 'line',
		data: { datasets: [{ data: years.map((x, i) => ({ x, y: temps[i] })), borderColor: '#ec1c24', borderWidth: 2, pointRadius: 0, tension: 0 }] },
		options: {
			responsive: false, animation: false,
			layout: { padding: { top: padT, right: right ? 0 : padR, left: right ? padL : 0 } },
			plugins: { legend: { display: false }, tooltip: { enabled: false }, frameTicks: { yAxis: 'y', major: .1, minor: .1, yLabels } },
			scales: { x: yearAxis(xMin, 2003), y: valueAxis(0, .3, .1, right, v => v.toFixed(1)) }
		},
		plugins: [frameTicks]
	})
}

// colour bar: nested bars, labels on the level boundaries
const barTicks = {
	id: 'barTicks',
	afterDraw(chart, args, o) {
		const ctx = chart.ctx, a = chart.chartArea, ys = chart.scales.y
		ctx.save()
		ctx.strokeStyle = '#5a5a5a'
		ctx.lineWidth = 1
		ctx.strokeRect(a.left + .5, a.top + .5, a.right - a.left - 1, a.bottom - a.top - 1)
		ys.ticks.forEach(t => {
			const y = Math.round(ys.getPixelForValue(t.value)) + .5
			ctx.beginPath(); ctx.moveTo(a.right, y); ctx.lineTo(a.right + 9, y); ctx.stroke()
			narrowText(ctx, t.label, a.right + o.labelGap, y, 'right', 15)
		})
		ctx.restore()
	}
}

function colorBar(left, top, barW, height, levels, palette, labelGap) {
	const c = makeCanvas(left, top - 10, barW + 70, height + 20)
	new Chart(c, {
		type: 'bar',
		data: {
			labels: [''],
			datasets: palette.map((color, i) => ({ data: [i + 1], backgroundColor: color, barPercentage: 1, categoryPercentage: 1, grouped: false, borderWidth: 0, inflateAmount: 0 }))
		},
		options: {
			responsive: false, animation: false,
			layout: { padding: { top: 10, bottom: 10 } },
			plugins: { legend: { display: false }, tooltip: { enabled: false }, barTicks: { labelGap } },
			scales: {
				x: { display: false },
				y: {
					type: 'linear', position: 'right', min: 0, max: palette.length,
					grid: { display: false, drawTicks: false }, border: { display: false },
					afterFit: s => { s.width = 70 },
					ticks: { display: false, stepSize: 1, autoSkip: false, callback: v => levels[v] }
				}
			}
		},
		plugins: [barTicks]
	})
}

function text(str, x, y, size, cls) {
	const d = document.createElement('div')
	d.className = 'txt ' + (cls || '')
	d.textContent = str
	d.style.left = x + 'px'; d.style.top = y + 'px'
	if (size) d.style.fontSize = size + 'px'
	document.body.appendChild(d)
}

// stripes rows -> normal rows
const stripes = rows => rows.map(r => {
	const out = []
	let band = r[0]
	for (let i = 1; i < r.length; i++) { out.push(band, r[i]); band = band === 1 ? 2 : 1 }
	out.push(band)
	return out
})

const L = 99, C = 451, R = 803, WL = 271, WR = 173

tempLine(L, WL, yearsA, tempA, 1967, 'left')
tempLine(C, WL, yearsB, tempB, 1967, false)
tempLine(R, WR, yearsC, tempC, 1980, 'right')

section(L, 159, WL, rowsD, paletteDEF, 1967, 1967, 400, 200, false)
section(C, 159, WL, rowsE, paletteDEF, 1967, 1970, 700, 200, false)
section(R, 159, WR, rowsF, paletteDEF, 1980, 1980, 1000, 300, false)

section(L, 311, WL, stripes(rowsG), paletteGHI, 1967, 1967, 400, 200, false)
section(C, 311, WL, stripes(rowsH), paletteGHI, 1967, 1970, 700, 200, false)
section(R, 311, WR, rowsI, paletteGHI, 1980, 1980, 1000, 300, false)

section(L, 463, WL, rowsJ, paletteJKL, 1967, 1967, 400, 200, false)
section(C, 463, WL, rowsK, paletteJKL, 1967, 1970, 700, 200, false)
section(R, 463, WR, rowsL, paletteJKL, 1980, 1980, 1000, 300, false)

section(L, 615, WL, rowsM, paletteMNO, 1967, 1967, 400, 200, true)
section(C, 615, WL, rowsN, paletteMNO, 1967, 1970, 700, 200, true)
section(R, 615, WR, rowsO, paletteMNO, 1980, 1980, 1000, 300, true)

colorBar(1004, 186, 10, 108, levelsDEF, paletteDEF, 44)
colorBar(1004, 338, 10, 108, levelsGHI, paletteGHI, 51)
colorBar(1004, 490, 10, 109, levelsJKL, paletteJKL, 39)
colorBar(1006, 643, 11, 108, levelsMNO, paletteMNO, 31)

text('T-4&T-6', 234, 23, 0, 'head')
text('T-7&DeepBlue', 590, 23, 0, 'head')
text('T-5', 898, 23, 0, 'head')
text('T (°C)', 31, 102, 22, 'rot')
text('T (°C)', 1053, 102, 22, 'rot')
text('Depth (m)', 20, 520, 19, 'rot')
text('Year', 235, 808, 21)
text('Year', 588, 808, 21)
text('Year', 892, 808, 21)
text('°C', 1009, 170, 16)
text('°C', 1009, 322, 16)
text('m', 1009, 475, 16)
text('°C', 1012, 627, 16)

const tagSpots = [['a)',106,130],['b)',460,130],['c)',815,130],['d)',107,278],['e)',459,278],['f)',811,282],['g)',107,432],['h)',459,431],['i)',812,433],['j)',107,583],['k)',459,582],['l)',811,585],['m)',107,734],['n)',459,735],['o)',813,738]]
tagSpots.forEach(t => text(t[0], t[1], t[2], 0, 'tag'))
</script>
</body>
</html>
